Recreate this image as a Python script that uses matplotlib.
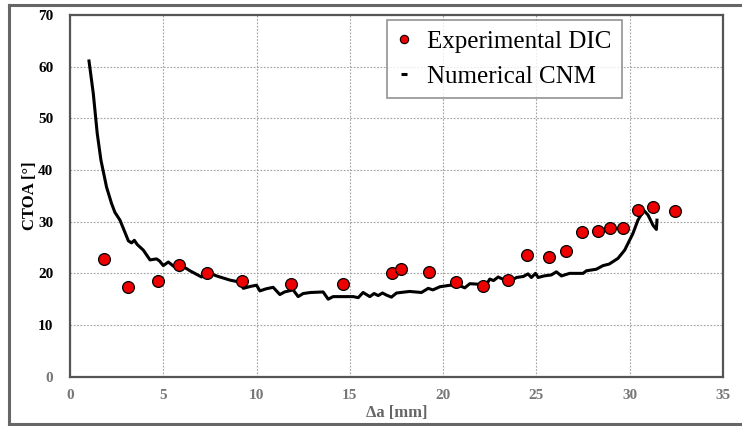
import matplotlib
matplotlib.use('Agg')
import matplotlib.pyplot as plt
from matplotlib.lines import Line2D

# Experimental points (DIC)
dic_da = [1.84, 3.10, 4.71, 5.82, 7.32, 9.23, 11.84, 14.64, 17.25, 17.73,
          19.25, 20.68, 22.12, 23.48, 24.49, 25.67, 26.57, 27.42, 28.28,
          28.92, 29.66, 30.46, 31.24, 32.44]
dic_ctoa = [22.8, 17.4, 18.5, 21.7, 20.1, 18.5, 18.0, 17.9, 20.1, 20.9,
            20.3, 18.4, 17.5, 18.8, 23.6, 23.1, 24.3, 28.1, 28.2,
            28.7, 28.7, 32.2, 32.8, 32.0]

# Numerical curve (CNM)
cnm_da = [1.02, 1.25, 1.46, 1.66, 1.96, 2.23, 2.41, 2.68, 3.13, 3.30, 3.45,
          3.60, 3.93, 4.29, 4.64, 4.80, 5.00, 5.27, 5.55, 5.89, 6.04, 6.43,
          7.05, 7.32, 7.86, 8.57, 9.11, 9.29, 9.70, 10.00, 10.18, 10.50,
          10.89, 11.25, 11.50, 11.96, 12.23, 12.50, 12.90, 13.57, 13.84,
          14.10, 15.18, 15.45, 15.71, 16.07, 16.30, 16.52, 16.75, 16.96,
          17.23, 17.50, 18.20, 18.84, 19.20, 19.45, 19.82, 20.36, 20.90,
          21.16, 21.43, 21.90, 22.23, 22.50, 22.70, 22.95, 23.30, 23.50,
          23.66, 23.93, 24.30, 24.55, 24.73, 24.95, 25.09, 25.40, 25.80,
          26.07, 26.34, 26.78, 27.50, 27.68, 28.21, 28.57, 28.90, 29.37,
          29.73, 30.17, 30.44, 30.75, 30.98, 31.25, 31.43, 31.46]
cnm_ctoa = [61.1, 54.8, 47.1, 41.9, 36.7, 33.5, 31.8, 30.3, 26.3, 25.9, 26.4,
            25.6, 24.5, 22.6, 22.8, 22.4, 21.5, 22.2, 21.4, 20.5, 21.4, 20.5,
            19.3, 20.3, 19.5, 18.7, 18.3, 17.1, 17.5, 17.7, 16.6, 17.0,
            17.3, 15.9, 16.4, 16.8, 15.5, 16.1, 16.3, 16.4, 15.0,
            15.5, 15.5, 15.3, 16.3, 15.5, 16.1, 15.7, 16.2, 15.8,
            15.4, 16.2, 16.5, 16.3, 17.1, 16.8, 17.4, 17.7, 17.6,
            17.2, 18.0, 17.9, 17.3, 18.9, 18.6, 19.3, 18.7, 19.2,
            18.6, 19.2, 19.4, 19.9, 19.2, 20.0, 19.2, 19.5, 19.7,
            20.3, 19.5, 20.0, 20.0, 20.5, 20.8, 21.5, 21.8, 22.9,
            24.5, 27.7, 30.3, 32.2, 31.3, 29.3, 28.5, 30.3]

x_ticks = [0, 5, 10, 15, 20, 25, 30, 35]
y_ticks = [0, 10, 20, 30, 40, 50, 60, 70]


def main():
    plt.rcParams['font.family'] = ['Liberation Serif', 'DejaVu Serif']
    fig = plt.figure(figsize=(7.42, 4.26), dpi=100)
    ax = fig.add_axes([0.0943, 0.1157, 0.8801, 0.8491])

    # outer frame around the whole figure
    frame_kw = dict(color='#666666', lw=2.2, transform=fig.transFigure)
    fig.add_artist(Line2D([0.012, 1.0], [0.988, 0.988], **frame_kw))
    fig.add_artist(Line2D([0.012, 0.012], [0.005, 0.988], **frame_kw))
    fig.add_artist(Line2D([0.012, 1.0], [0.005, 0.005], **frame_kw))

    ax.plot(cnm_da, cnm_ctoa, color='black', lw=2.2, zorder=3)
    ax.plot(dic_da, dic_ctoa, 'o', color='#ee0000', mec='black', mew=0.9,
            ms=8.5, zorder=4)

    ax.set_xlim(0, 35)
    ax.set_ylim(0, 70)
    ax.set_xticks(x_ticks)
    ax.set_yticks(y_ticks)
    ax.grid(True, color='#a0a0a0', ls=(0, (1.5, 1.5)), lw=0.8)
    ax.set_axisbelow(True)
    for sp in ax.spines.values():
        sp.set_color('#555555')
        sp.set_linewidth(1.6)

    ax.tick_params(length=0)
    ax.tick_params(axis='y', pad=12, labelsize=11)
    ax.tick_params(axis='x', pad=9, labelsize=11, labelcolor='#777777')
    for lbl in ax.get_xticklabels() + ax.get_yticklabels():
        lbl.set_fontweight('bold')
    ax.get_yticklabels()[0].set_color('#777777')

    ax.set_ylabel('CTOA [°]', fontsize=12, fontweight='bold', labelpad=0)
    ax.set_xlabel('Δa [mm]', fontsize=12, fontweight='bold',
                  color='#666666', labelpad=2)

    handles = [
        Line2D([], [], ls='none', marker='o', color='#ee0000', mec='black',
               mew=0.8, ms=6),
        Line2D([], [], ls='none', marker='_', color='black', mew=2.2, ms=5),
    ]
    leg = ax.legend(handles, ['Experimental DIC', 'Numerical CNM'],
                    loc='upper left', bbox_to_anchor=(0.522, 0.953),
                    bbox_transform=fig.transFigure, fontsize=18,
                    frameon=True, fancybox=False, handlelength=0.5,
                    handletextpad=0.7, labelspacing=0.5, borderpad=0.4,
                    borderaxespad=0)
    leg.get_frame().set_edgecolor('#777777')
    leg.get_frame().set_linewidth(1.2)

    fig.savefig('out.png', dpi=100)
    plt.close(fig)


if __name__ == '__main__':
    main()
